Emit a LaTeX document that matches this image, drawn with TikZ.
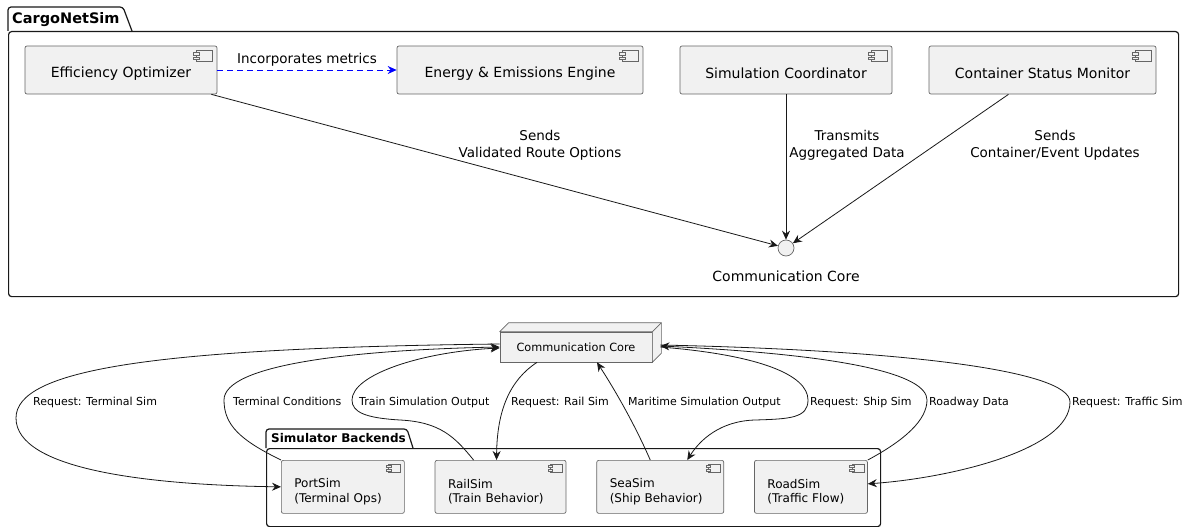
\documentclass[tikz,border=0pt]{standalone}
\usepackage{fontspec}
\setmainfont{DejaVu Sans}
\usetikzlibrary{arrows.meta, positioning, calc}
\definecolor{compfill}{HTML}{F1F1F1}
\definecolor{edgecol}{HTML}{181818}
\tikzset{
  comp/.style={
    draw=black!60,
    fill=compfill,
    rectangle,
    rounded corners=2pt,
    line width=0.7pt,
    minimum height=48pt,
    align=center,
    execute at begin node={\rule{0pt}{17pt}},
    font=\fontsize{14}{16.8}\selectfont
  },
  smallcomp/.style={
    draw=black!60,
    fill=compfill,
    rectangle,
    rounded corners=2pt,
    line width=0.7pt,
    minimum height=53pt,
    inner xsep=13pt,
    align=left,
    text width=#1,
    execute at begin node={\rule{0pt}{19pt}},
    font=\fontsize{12}{14.5}\selectfont
  },
  compicon/.pic={
    \draw[fill=compfill, draw=black!60, line width=0.6pt] (-16pt,0pt) rectangle (0pt,-11pt);
    \draw[fill=compfill, draw=black!60, line width=0.5pt] (-19pt,-2pt) rectangle (-13pt,-4.5pt);
    \draw[fill=compfill, draw=black!60, line width=0.5pt] (-19pt,-6.5pt) rectangle (-13pt,-9pt);
  }
}

\begin{document}
\begin{tikzpicture}[
    x=1pt, y=-1pt,
    node distance=30pt,
    link/.style={-{Stealth[length=9pt,width=8pt,inset=3pt]}, draw=edgecol, line width=0.8pt},
    pkgframe/.style={draw=black!90, line width=1.2pt, rounded corners=3pt,
                     anchor=north west, inner sep=0pt},
    pkgtitle/.style={anchor=base west, inner sep=0pt, font=\bfseries#1},
    toplbl/.style={align=center, font=\fontsize{13.5}{17}\selectfont},
    botlbl/.style={anchor=base west, inner sep=0pt, font=\fontsize{11}{13}\selectfont}
]
\useasboundingbox (0,0) rectangle (1186,527);

% --- CargoNetSim package ---
\node[pkgframe, minimum width=1170pt, minimum height=265pt] (cargo) at (8,31) {};
\draw[pkgframe] (cargo.north west) -- (8,7) -- (123,7) -- (132,31);
\node[pkgtitle=\fontsize{14.5}{17}\selectfont] (cargotitle) at (12,24) {CargoNetSim};

\node[comp, minimum width=192pt] (opt)    at (121,70)    {Efficiency Optimizer};
\node[comp, minimum width=246pt] (energy) at (520,70)    {Energy \& Emissions Engine};
\node[comp, minimum width=212pt] (coord)  at (786,70)    {Simulation Coordinator};
\node[comp, minimum width=227pt] (mon)    at (1042.5,70) {Container Status Monitor};
\pic at ([xshift=-5pt,yshift=-5pt]opt.north east)    {compicon};
\pic at ([xshift=-5pt,yshift=-5pt]energy.north east) {compicon};
\pic at ([xshift=-5pt,yshift=-5pt]coord.north east)  {compicon};
\pic at ([xshift=-5pt,yshift=-5pt]mon.north east)    {compicon};

% interface
\node[circle, draw=black!60, fill=compfill, line width=0.7pt, minimum size=16pt, inner sep=0pt] (ccore) at (786,248) {};
\node[font=\fontsize{14}{16.8}\selectfont] (ccorelbl) at (786,276) {Communication Core};

\draw[link, draw=blue, dash pattern=on 6pt off 4pt] (opt) -- node[above, font=\fontsize{13.5}{16}\selectfont] (inclbl) {Incorporates metrics} (energy);
\draw[link] ([xshift=-6pt]opt.south east) -- (ccore);
\draw[link] (coord.south) -- (ccore);
\draw[link] ([xshift=-34pt]mon.south) -- (ccore);

\node[toplbl] (sendslbl) at (540,145)  {Sends\\Validated Route Options};
\node[toplbl] (translbl) at (847,145)  {Transmits\\Aggregated Data};
\node[toplbl] (updlbl)   at (1055,145) {Sends\\Container/Event Updates};

% --- Communication Core node (3D box) ---
\node[draw=black!60, fill=compfill, line width=0.7pt, minimum width=152pt, minimum height=30pt,
      font=\fontsize{11.3}{13}\selectfont] (core) at (576,347) {Communication Core};
\filldraw[draw=black!60, fill=compfill, line width=0.7pt, line join=round]
  (core.north west) -- ++(9pt,9pt) -- ([shift={(9pt,9pt)}]core.north east)
  -- ([shift={(9pt,9pt)}]core.south east) -- (core.south east) -- (core.north east) -- cycle;
\draw[draw=black!60, line width=0.7pt] (core.north east) -- ++(9pt,9pt);

% --- Simulator Backends package ---
\node[pkgframe, minimum width=614pt, minimum height=78pt] (backends) at (266,448) {};
\draw[pkgframe] (backends.north west) -- (266,429) -- (407,429) -- (413,448);
\node[pkgtitle=\fontsize{12}{14}\selectfont] (backtitle) at (271,442.5) {Simulator Backends};

\node[smallcomp=97pt, anchor=north west] (port) at (281,460) {PortSim\\(Terminal Ops)};
\node[smallcomp=105pt, right=of port] (rail) {RailSim\\(Train Behavior)};
\node[smallcomp=101pt, right=of rail] (sea)  {SeaSim\\(Ship Behavior)};
\node[smallcomp=87pt, right=of sea]   (road) {RoadSim\\(Traffic Flow)};
\pic[scale=0.75] at ([xshift=-4pt,yshift=-4pt]port.north east) {compicon};
\pic[scale=0.75] at ([xshift=-4pt,yshift=-4pt]rail.north east) {compicon};
\pic[scale=0.75] at ([xshift=-4pt,yshift=-4pt]sea.north east)  {compicon};
\pic[scale=0.75] at ([xshift=-4pt,yshift=-4pt]road.north east) {compicon};

% --- Requests and results ---
\draw[link] ([yshift=3pt]core.west) .. controls (150,348) and (16,370) .. (16,418)
  .. controls (16,470) and (150,485) .. (port.west);
\draw[link] (port.north west) .. controls (240,440) and (224,425) .. (224,400)
  .. controls (224,365) and (350,350) .. (core.west);
\draw[link] ([xshift=-27pt]rail.north) .. controls (455,437) and (440,422) .. (400,420)
  .. controls (365,418) and (352,412) .. (352,400)
  .. controls (352,375) and (420,352) .. ([yshift=-1pt]core.west);
\draw[link] ([xshift=-39pt]core.south) .. controls (510,380) and (497,410) .. ([xshift=-4pt]rail.north);
\draw[link] ([xshift=-10pt]sea.north) .. controls (635,425) and (615,390) .. ([xshift=21pt]core.south);
\draw[link] ([xshift=8pt]core.east) .. controls (760,355) and (808,375) .. (808,400)
  .. controls (808,418) and (790,419) .. (755,420)
  .. controls (720,421) and (700,440) .. ([xshift=27pt]sea.north);
\draw[link] (road.north east) .. controls (905,440) and (927,420) .. (927,400)
  .. controls (927,375) and (850,355) .. ([xshift=8pt,yshift=1pt]core.east);
\draw[link] ([xshift=8pt,yshift=2pt]core.east) .. controls (900,350) and (1070,370) .. (1070,402)
  .. controls (1070,450) and (950,478) .. ([yshift=3pt]road.east);

\node[botlbl] (l1) at (33,405.5)   {Request: Terminal Sim};
\node[botlbl] (l2) at (233,405.5)  {Terminal Conditions};
\node[botlbl] (l3) at (359,405.5)  {Train Simulation Output};
\node[botlbl] (l4) at (511,405.5)  {Request: Rail Sim};
\node[botlbl] (l5) at (628,405.5)  {Maritime Simulation Output};
\node[botlbl] (l6) at (810,405.5)  {Request: Ship Sim};
\node[botlbl] (l7) at (929,405.5)  {Roadway Data};
\node[botlbl] (l8) at (1072,405.5) {Request: Traffic Sim};

\end{tikzpicture}
\end{document}
